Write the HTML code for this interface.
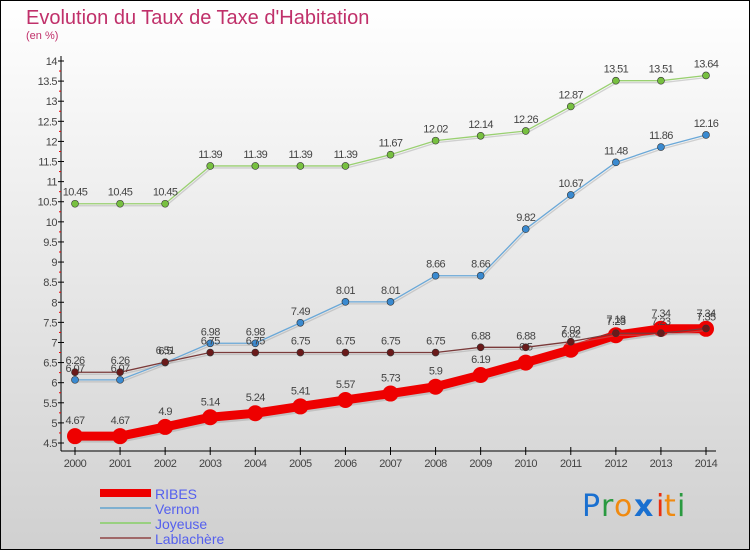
<!DOCTYPE html>
<html><head><meta charset="utf-8"><style>
html,body{margin:0;padding:0}
body{width:750px;height:550px;overflow:hidden;font-family:"Liberation Sans",sans-serif}
svg{display:block}
</style></head><body>
<svg id="chart" width="750" height="550" xmlns="http://www.w3.org/2000/svg">
<defs><linearGradient id="bg" x1="0" y1="0" x2="0" y2="1"><stop offset="0" stop-color="#ffffff"/><stop offset="1" stop-color="#d0d0d0"/></linearGradient></defs>
<rect x="0.5" y="0.5" width="749" height="549" fill="url(#bg)" stroke="#000"/>
<text x="26" y="24" font-size="20" fill="#c0306a">Evolution du Taux de Taxe d'Habitation</text>
<text x="26" y="39" font-size="11" fill="#c0306a">(en %)</text>
<g id="axes"></g><g id="series"></g>
<g>
<rect x="100" y="489" width="51" height="8" fill="#e00"/>
<text x="155" y="499" font-size="14" fill="#5560ee">RIBES</text>
<rect x="100" y="507" width="51" height="2" fill="#7fb0d0"/>
<text x="155" y="514" font-size="14" fill="#5560ee">Vernon</text>
<rect x="100" y="522" width="51" height="2" fill="#99d080"/>
<text x="155" y="529" font-size="14" fill="#5560ee">Joyeuse</text>
<rect x="100" y="537" width="51" height="2" fill="#a06868"/>
<text x="155" y="544" font-size="14" fill="#5560ee">Lablachère</text>
</g>
<g font-size="30" font-family="'DejaVu Sans',sans-serif">
<text x="582" y="516" fill="#1a70d0">P</text><text x="601" y="516" fill="#2a9a40">r</text><text x="614" y="516" fill="#f08a10">o</text><text x="634" y="516" fill="#1a70d0" font-weight="bold">x</text><text x="656" y="516" fill="#e83010">i</text><text x="664" y="516" fill="#f08a10">t</text><text x="677" y="516" fill="#2a9a40">i</text>
</g>
</svg>
<script>
const years = [2000,2001,2002,2003,2004,2005,2006,2007,2008,2009,2010,2011,2012,2013,2014];
const ribes = [4.67,4.67,4.9,5.14,5.24,5.41,5.57,5.73,5.9,6.19,6.5,6.82,7.18,7.34,7.34];
const vernon = [6.07,6.07,6.5,6.98,6.98,7.49,8.01,8.01,8.66,8.66,9.82,10.67,11.48,11.86,12.16];
const joyeuse = [10.45,10.45,10.45,11.39,11.39,11.39,11.39,11.67,12.02,12.14,12.26,12.87,13.51,13.51,13.64];
const lablachere = [6.26,6.26,6.51,6.75,6.75,6.75,6.75,6.75,6.75,6.88,6.88,7.02,7.23,7.23,7.35];
const yTicks = [4.5,5,5.5,6,6.5,7,7.5,8,8.5,9,9.5,10,10.5,11,11.5,12,12.5,13,13.5,14];
const NS="http://www.w3.org/2000/svg";
const x = i => 75 + i*(706-75)/(years.length-1);
const y = v => 443 - (v-4.5)*(443-61)/9.5;
function mk(tag, attrs, parent){const e=document.createElementNS(NS,tag);for(const k in attrs)e.setAttribute(k,attrs[k]);parent.appendChild(e);return e;}
const axes=document.getElementById('axes'), ser=document.getElementById('series');
const ya=mk('line',{x1:61,y1:56,x2:61,y2:451,stroke:'#000'},axes);


const xa=mk('line',{x1:61,y1:451,x2:716,y2:451,stroke:'#000'},axes);


yTicks.forEach(v=>{
  mk('line',{x1:58,x2:64,y1:y(v),y2:y(v),stroke:'#000'},axes);
  if(v<14) mk('line',{x1:59,x2:61,y1:y(v+0.25),y2:y(v+0.25),stroke:'#e00'},axes);
  const t=mk('text',{x:57,y:y(v)+4,'font-size':11,fill:'#444','text-anchor':'end','letter-spacing':'-0.5'},axes);
  t.textContent=String(v);
  
  
});
years.forEach((yr,i)=>{
  mk('line',{x1:x(i),x2:x(i),y1:447,y2:455,stroke:'#000'},axes);
  const t=mk('text',{x:x(i),y:467,'font-size':11,fill:'#444','text-anchor':'middle','letter-spacing':'-0.5'},axes);
  t.textContent=String(yr);
  
  
});
function draw(name,vals,color,w,r,dot){
  const g=mk('g',{},ser);
  
  
  const pts=vals.map((v,i)=>x(i)+','+y(v)).join(' ');
  mk('polyline',{points:pts,fill:'none',stroke:'#999','stroke-width':w,'stroke-opacity':0.4,transform:'translate(1,2)'},g);
  mk('polyline',{points:pts,fill:'none',stroke:color,'stroke-width':w,'stroke-linejoin':'round'},g);
  vals.forEach((v,i)=>{
    const c=mk('circle',{cx:x(i),cy:y(v),r:r,fill:dot,stroke:'#333','stroke-width':r>5?0:0.6},g);
    
    
    const t=mk('text',{x:x(i),y:y(v)-(r>5?12:8),'font-size':11,fill:'#444','text-anchor':'middle','letter-spacing':'-0.6'},g);
    t.textContent=String(v);
    
    
  });
}
draw('ribes',ribes,'#ee0000',9,8,'#ee0000');
draw('vernon',vernon,'#6aa8d8',1.3,3.5,'#3a8ad0');
draw('joyeuse',joyeuse,'#99d070',1.3,3.5,'#77c040');
draw('lablachere',lablachere,'#7a3a3a',1.3,3.5,'#6a1a1a');
</script>
</body></html>
